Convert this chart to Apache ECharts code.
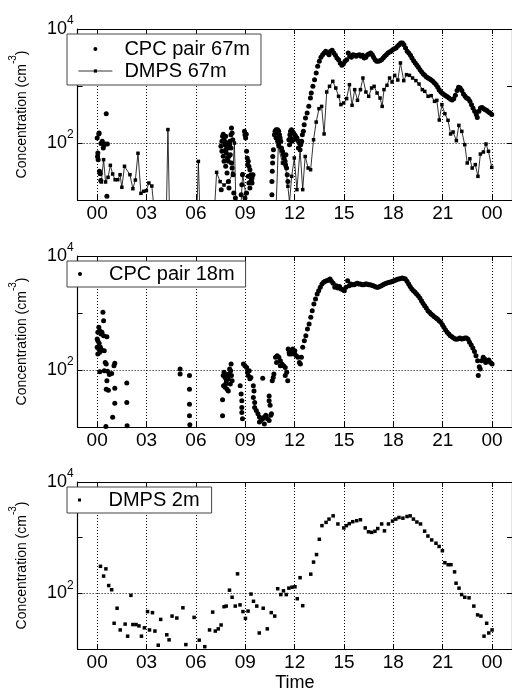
<!DOCTYPE html>
<html><head><meta charset="utf-8">
<script src="https://cdn.jsdelivr.net/npm/echarts@6/dist/echarts.min.js"></script>
<style>html,body{margin:0;padding:0;background:#fff}#c{width:512px;height:693px}</style>
</head><body><div id="c"></div>
<script>
// x ticks (hours of day) and their labels
const tickHours = [0, 3, 6, 9, 12, 15, 18, 21, 24];
const tickLabels = ['00', '03', '06', '09', '12', '15', '18', '21', '00'];
// labelled decades of the log y axis (exponents)
const yLabelExps = [2, 4];

// CPC pair 67m  [hour, concentration cm^-3]
const cpc67 = [
[0.00,122],[0.02,58],[0.04,67],[0.06,51],[0.10,144],[0.12,150],[0.14,32],[0.18,29],[0.22,22],[0.23,98],[0.31,107],[0.37,82],[0.41,91],[0.49,96],[0.55,327],[0.59,11.6],[0.62,96],
[7.52,87.5],[7.54,15.2],[7.58,107],[7.58,71.5],[7.62,131],[7.66,143],[7.66,58.4],[7.71,122],[7.71,47.7],[7.75,107],[7.77,93.5],[7.81,76],[7.81,131],[7.81,39],[7.85,67],[7.87,87.5],[7.89,29.8],[7.91,54.6],[7.93,100],[7.97,47.7],[7.97,82],[7.97,21.2],[8.01,58.4],[8.01,16.3],[8.05,93.5],[8.07,107],[8.09,62.4],[8.13,140],[8.13,82],[8.16,183],[8.16,44.6],[8.20,150],[8.20,36.4],[8.24,114],[8.26,27.8],[8.30,13.3],[8.40,10.8],
[8.75,12.4],[8.79,18.6],[8.83,27.8],[8.95,160],[8.98,140],[8.98,10.8],[9.02,122],[9.06,143],[9.08,71.5],[9.08,13.3],[9.12,54.6],[9.14,41.7],[9.18,47.7],[9.18,26],[9.22,39],[9.22,19.9],[9.28,34],[9.28,26],[9.28,16.3],[9.34,27.8],[9.34,21.2],[9.38,22.8],[9.41,19.9],[9.41,24.3],[9.47,27.8],
[10.62,12.4],[10.62,21.2],[10.64,31.8],[10.66,44.6],[10.67,58],[10.71,76],[10.77,140],[10.81,160],[10.87,170],[10.87,122],[10.93,150],[10.97,170],[10.97,107],[11.03,160],[11.03,93.5],[11.08,140],[11.12,122],[11.16,107],[11.20,82],[11.26,71.5],[11.32,62],[11.36,54],[11.36,44.6],[11.42,47.7],[11.45,41.7],[11.47,62],[11.51,36.4],[11.55,27.8],[11.59,21.2],[11.65,114],[11.69,93.5],[11.71,140],[11.75,160],[11.75,122],[11.81,170],[11.84,107],[11.86,160],[11.94,150],[11.94,114],[12.00,140],[12.06,131],[12.14,122],[12.21,110],[12.23,82],[12.29,100],[12.33,76],[12.37,93.5],[12.43,107],
[12.47,140],[12.53,160],[12.58,210],[12.66,275],[12.76,335],[12.86,440],[12.96,615],[13.01,755],[13.11,985],[13.21,1290],[13.31,1690],[13.40,2215],[13.50,2710],[13.60,3185],[13.70,3550],[13.79,3790],[13.89,4055],[13.99,3790],[14.09,3550],[14.18,4055],[14.28,4225],[14.38,3790],[14.48,3450],[14.57,3100],[14.67,2900],[14.77,2535],[14.87,2305],[14.96,2435],[15.06,2710],[15.16,2900],[15.26,3790],[15.35,3310],[15.45,3185],[15.55,3550],[15.65,3450],[15.74,3310],[15.84,3450],[15.94,3550],[16.04,3310],[16.13,3450],[16.23,3100],[16.33,3185],[16.43,3550],[16.52,3640],[16.62,3790],[16.72,3550],[16.80,3185],[16.89,2900],[16.98,2710],[17.08,2710],[17.18,2780],[17.28,2900],[17.38,3100],[17.47,3310],[17.57,3550],[17.67,3790],[17.77,3945],[17.86,4055],[17.96,4335],[18.06,4520],[18.16,4645],[18.25,4965],[18.35,5310],[18.45,5675],[18.55,5675],[18.64,5310],[18.74,4645],[18.84,4055],[18.94,3790],[19.04,3450],[19.13,3100],[19.23,2780],[19.33,2535],[19.43,2305],[19.52,2125],[19.62,1935],[19.72,1760],[19.82,1625],[19.91,1540],[20.01,1440],[20.11,1380],[20.21,1330],[20.30,1275],[20.40,1210],[20.50,1130],[20.60,1055],[20.70,950],[20.79,850],[20.89,785],[20.99,735],[21.09,705],[21.18,675],[21.28,650],[21.38,615],[21.48,585],[21.57,570],[21.67,600],[21.77,685],[21.87,830],[21.96,950],[22.06,920],[22.16,830],[22.26,725],[22.36,660],[22.45,615],[22.55,600],[22.65,540],[22.75,470],[22.84,410],[22.94,360],[23.04,315],[23.10,280],[23.20,360],[23.29,410],[23.39,420],[23.49,400],[23.59,385],[23.68,370],[23.78,350],[23.88,335],[23.98,315]
];

// DMPS 67m  [hour, concentration]  (values < 10 fall below the axis)
const dmps67 = [
[0.25,20.7],[0.39,51],[0.51,20.7],[0.66,25],[0.80,40.6],[0.94,28.6],[1.09,22.7],[1.25,22.7],[1.39,27.8],[1.50,16.7],[1.66,39],[1.99,27.8],[2.17,15.8],[2.32,22.4],[2.48,66],[2.66,13.1],[2.83,14.2],[2.99,14.6],[3.14,19.9],[3.32,17.6],[3.48,6],[4.20,5],[4.30,172],[4.40,5],[6.05,5],[6.15,47.6],[6.25,5],[7.10,5],[7.26,30.6],[7.47,21],[7.71,18.3],[8.00,21],[8.24,29.4],[8.34,100],[8.45,5],[8.70,5],[8.84,28.6],[9.02,13],[9.20,5],[10.85,5],[11.01,87],[11.26,44.6],[11.45,39],[11.59,17.4],[11.69,9],[11.82,26],[11.98,54.6],[12.14,15.2],[12.33,76],[12.49,15.2],[12.64,58],[12.82,36.4],[12.97,34],[13.15,114],[13.31,233],[13.48,400],[13.64,439],[13.79,144],[13.95,785],[14.12,987],[14.32,1208],[14.50,922],[14.67,659],[14.81,471],[14.98,504],[15.16,600],[15.33,1055],[15.49,458],[15.65,863],[15.82,561],[16.00,863],[16.15,1380],[16.33,785],[16.50,659],[16.68,922],[16.83,987],[17.01,753],[17.19,615],[17.32,439],[17.43,863],[17.61,1028],[17.77,1380],[17.92,1175],[18.08,1538],[18.27,1274],[18.43,2535],[18.63,1241],[18.80,1581],[18.98,1538],[19.17,1380],[19.37,1241],[19.56,1084],[19.76,863],[19.91,806],[20.11,659],[20.30,677],[20.50,538],[20.64,560],[20.79,253],[20.95,471],[21.13,327],[21.32,250],[21.48,144],[21.63,156],[21.83,110],[21.98,204],[22.16,160],[22.34,93.5],[22.49,44.6],[22.65,53],[22.79,36.4],[22.98,41.7],[23.14,26],[23.29,64],[23.47,69.5],[23.63,96],[23.78,71.5],[23.98,37.4]
];

// CPC pair 18m  [hour, concentration]
const cpc18 = [
[0.00,350],[0.00,250],[0.04,458],[0.04,327],[0.04,191],[0.10,561],[0.10,234],[0.12,295],[0.16,490],[0.16,204],[0.16,93],[0.20,250],[0.23,428],[0.29,458],[0.29,225],[0.35,1028],[0.39,733],[0.39,400],[0.43,218],[0.43,97],[0.49,136],[0.53,10.2],[0.55,127],[0.55,46],[0.59,385],[0.59,65],[0.63,95],[0.68,44],[0.74,83],[0.88,87],[0.94,14.8],[1.02,119],[1.07,131],[1.07,48],[1.07,26],[1.80,59],[1.80,27],[1.82,10.5],
[5.04,104],[5.04,85],[5.61,80],[5.61,46],[5.61,25],[5.61,15.8],[5.63,11],
[7.62,30],[7.62,15.8],[7.66,80],[7.68,53],[7.71,91],[7.77,74],[7.77,50],[7.81,57],[7.81,83],[7.85,65],[7.89,46],[7.91,80],[7.97,70],[7.97,43],[8.01,85],[8.05,104],[8.09,57],[8.11,97],[8.14,127],[8.16,80],[8.20,65],
[8.69,53],[8.75,38],[8.79,29],[8.79,22],[8.79,18],[8.83,14],[8.89,127],[8.98,119],[9.08,111],[9.14,91],[9.18,80],[9.24,97],[9.28,70],[9.34,74],[9.49,53],[9.49,33],[9.53,43],[9.57,27],[9.57,22],[9.67,19.4],[9.77,17],[9.86,15],[9.86,12.3],[9.96,13],[10.06,14],[10.06,72],[10.16,15],[10.16,11.3],[10.25,16],[10.35,14],[10.45,13],[10.45,35],[10.45,29],[10.51,24],[10.55,16],[10.59,17],
[10.64,65],[10.70,74],[10.74,85],[10.84,167],[10.90,136],[10.94,178],[11.04,167],[11.13,146],[11.13,119],[11.23,127],[11.33,119],[11.43,111],[11.43,80],[11.52,91],[11.58,65],[11.68,191],[11.76,218],[11.88,234],[12.01,218],
[11.61,234],[11.67,204],[11.75,218],[11.80,191],[11.90,204],[12.00,191],[12.10,178],[12.20,167],[12.29,136],[12.35,127],[12.41,167],[12.49,250],[12.59,327],[12.68,400],[12.78,524],[12.88,641],[12.98,839],[13.07,1098],[13.17,1438],[13.27,1762],[13.37,2155],[13.46,2465],[13.56,2820],[13.66,3225],[13.76,3450],[13.85,3597],[13.95,3690],[14.05,3790],[14.15,3945],[14.24,3597],[14.34,3310],[14.44,2820],[14.54,3020],[14.63,2750],[14.73,2920],[14.83,2635],[14.93,2550],[15.02,2465],[15.12,2820],[15.22,3690],[15.32,3020],[15.41,3225],[15.51,3130],[15.61,3130],[15.70,3225],[15.80,3310],[15.90,3225],[16.00,3225],[16.10,3130],[16.20,3130],[16.29,3225],[16.39,3225],[16.49,3130],[16.59,3130],[16.68,3060],[16.78,3020],[16.88,2920],[16.98,2820],[17.07,2820],[17.17,2920],[17.27,3020],[17.37,3130],[17.46,3225],[17.56,3310],[17.66,3400],[17.76,3450],[17.85,3500],[17.95,3597],[18.05,3690],[18.15,3790],[18.24,3890],[18.34,3945],[18.44,4050],[18.54,4110],[18.63,4050],[18.73,3945],[18.83,3597],[18.93,3225],[19.02,2920],[19.12,2635],[19.22,2465],[19.32,2305],[19.41,2155],[19.51,2015],[19.61,1832],[19.71,1645],[19.80,1479],[19.90,1346],[20.00,1225],[20.10,1098],[20.20,1028],[20.29,960],[20.39,910],[20.49,863],[20.59,817],[20.68,785],[20.78,733],[20.88,685],[20.98,623],[21.07,561],[21.17,503],[21.27,458],[21.37,428],[21.46,400],[21.56,385],[21.66,364],[21.76,350],[21.85,345],[21.95,355],[22.05,364],[22.15,350],[22.24,355],[22.34,364],[22.44,364],[22.54,345],[22.63,306],[22.73,275],[22.83,243],[22.93,212],[23.02,178],[23.12,146],[23.16,80],[23.22,114],[23.28,104],[23.36,146],[23.46,167],[23.55,156],[23.61,136],[23.71,146],[23.80,150],[23.90,136],[24.00,127]
];

// DMPS 2m  [hour, concentration]
const dmps2 = [
[0.20,306],[0.39,204],[0.53,275],[0.70,138],[0.88,116],[1.03,29],[1.21,54],[1.40,22],[1.70,28],[1.85,17],[2.05,92],[2.17,27.5],[2.36,27.5],[2.54,26],[2.69,17],[2.87,24],[3.06,47],[3.18,22],[3.36,45],[3.51,21],[3.71,11.7],[3.86,34],[4.23,18],[4.37,14.6],[4.55,39],[4.84,36],[5.21,55],[5.39,12],[5.89,37],[6.20,14.4],[6.54,11],[6.83,22],[7.02,46],[7.18,21],[7.36,23],[7.53,27],[7.71,57.5],[7.84,59],[8.04,114],[8.20,85],[8.39,59],[8.53,224],[8.68,62],[8.86,47],[9.01,35.5],[9.17,48],[9.35,97],[9.50,72],[9.70,59],[9.85,19.4],[10.09,54],[10.34,23],[10.58,45],[10.79,39],[10.97,121],[11.16,95],[11.32,111],[11.49,95],[11.65,124],[11.84,129],[12.02,131],[12.16,80],[12.33,191],[12.49,60],[12.98,221],[13.15,364],[13.33,497],[13.50,935],[13.66,1645],[13.91,1883],[14.09,2155],[14.34,2465],[14.63,1762],[14.99,1497],[15.14,1645],[15.32,1784],[15.53,1935],[15.77,2015],[16.00,2098],[16.29,1497],[16.49,1274],[16.68,1245],[16.88,1300],[17.05,1459],[17.29,1762],[17.46,1327],[17.70,1762],[17.95,1987],[18.15,2155],[18.34,2305],[18.58,2240],[18.83,2400],[19.02,2465],[19.22,2155],[19.43,1910],[19.65,1762],[19.90,1309],[20.10,1069],[20.33,910],[20.59,794],[20.78,695],[20.98,583],[21.13,355],[21.33,327],[21.50,327],[21.72,243],[21.81,152],[21.99,124],[22.15,95],[22.34,85],[22.60,83],[22.89,59],[23.12,41],[23.32,39],[23.51,17],[23.67,29],[23.80,19.4],[24.00,22]
];

const FONT = "'Liberation Sans', Arial, Helvetica, sans-serif";
const XMIN = -1.19, XMAX = 25.21;
const gridDefs = [
  {left: 63, top: 29, width: 451, height: 171},
  {left: 63, top: 256, width: 451, height: 171},
  {left: 63, top: 482, width: 451, height: 170}
];
const dotted = {type: [1, 2], color: '#000', width: 1};
const frame = {color: '#000', width: 1.2};

const xAxes = [], yAxes = [];
for (let i = 0; i < 3; i++) {
  xAxes.push({
    gridIndex: i, type: 'value', min: XMIN, max: XMAX, position: 'bottom',
    axisLine: {show: true, onZero: false, lineStyle: frame},
    axisTick: {show: true, inside: true, length: 5, customValues: tickHours, lineStyle: {color: '#000'}},
    axisLabel: {show: true, customValues: tickHours, margin: 4, color: '#000', fontSize: 19, fontFamily: FONT,
      formatter: v => tickLabels[tickHours.indexOf(v)]},
    splitLine: {show: true, lineStyle: dotted},
    name: i === 2 ? 'Time' : '', nameLocation: 'middle', nameGap: 25,
    nameTextStyle: {color: '#000', fontSize: 18, fontFamily: FONT}
  });
}
for (let i = 0; i < 3; i++) {
  xAxes.push({
    gridIndex: i, type: 'value', min: XMIN, max: XMAX, position: 'top',
    axisLine: {show: true, onZero: false, lineStyle: frame},
    axisTick: {show: true, inside: true, length: 5, customValues: tickHours, lineStyle: {color: '#000'}},
    axisLabel: {show: false}, splitLine: {show: false}
  });
}
for (let i = 0; i < 3; i++) {
  yAxes.push({
    gridIndex: i, type: 'log', logBase: 10, min: 10, max: 10000, position: 'left',
    axisLine: {show: true, onZero: false, lineStyle: frame},
    axisTick: {show: true, inside: true, length: 5, lineStyle: {color: '#000'}},
    axisLabel: {show: true, margin: 4, color: '#000', fontFamily: FONT,
      formatter: v => { const e = Math.round(Math.log10(v)); return yLabelExps.indexOf(e) >= 0 ? '{b|10}{s|' + e + '}' : ''; },
      rich: {b: {fontSize: 18, lineHeight: 28, verticalAlign: 'middle', fontFamily: FONT, color: '#000'},
             s: {fontSize: 12, lineHeight: 12, verticalAlign: 'top', fontFamily: FONT, color: '#000'}}},
    splitLine: {show: false},
    name: 'Concentration (cm{s|-3})', nameLocation: 'middle', nameGap: 27, nameRotate: 90,
    nameTextStyle: {color: '#000', fontSize: 14, fontFamily: FONT, lineHeight: 28,
      rich: {s: {fontSize: 10, lineHeight: 10, verticalAlign: 'top', fontFamily: FONT, color: '#000'}}}
  });
}
for (let i = 0; i < 3; i++) {
  yAxes.push({
    gridIndex: i, type: 'log', logBase: 10, min: 10, max: 10000, position: 'right',
    axisLine: {show: true, onZero: false, lineStyle: frame},
    axisTick: {show: true, inside: true, length: 5, lineStyle: {color: '#000'}},
    axisLabel: {show: false}, splitLine: {show: false}
  });
}

const hLine = {silent: true, symbol: ['none', 'none'], label: {show: false}, lineStyle: dotted,
  emphasis: {disabled: true}, data: [{yAxis: 100}]};

const legendBase = {
  orient: 'vertical', itemWidth: 34, itemHeight: 4, itemGap: 2, selectedMode: false,
  borderColor: '#444', borderWidth: 1, backgroundColor: '#fff', borderRadius: 0,
  textStyle: {color: '#000', fontSize: 20, fontFamily: FONT, lineHeight: 20, padding: [0, 0, 0, 7]}
};
const squareIcon = 'path://M0,0L1,0L1,1L0,1Z';

const option = {
  animation: false,
  backgroundColor: '#fff',
  grid: gridDefs,
  xAxis: xAxes,
  yAxis: yAxes,
  legend: [
    Object.assign({}, legendBase, {left: 67, top: 34, padding: [5, 11, 4, 11],
      data: [{name: 'CPC pair 67m', icon: 'circle'},
             {name: 'DMPS 67m', lineStyle: {width: 0.8, color: '#000'}}]}),
    Object.assign({}, legendBase, {left: 67, top: 261, padding: [3, 11, 3, 11],
      data: [{name: 'CPC pair 18m', icon: 'circle'}]}),
    Object.assign({}, legendBase, {left: 67, top: 487, padding: [3, 12, 3, 11], itemHeight: 3,
      data: [{name: 'DMPS 2m', icon: squareIcon}]})
  ],
  series: [
    {name: 'CPC pair 67m', type: 'scatter', xAxisIndex: 0, yAxisIndex: 0, symbol: 'circle', symbolSize: 5,
     itemStyle: {color: '#000', opacity: 1}, data: cpc67, markLine: hLine, silent: true},
    {name: 'DMPS 67m', type: 'line', xAxisIndex: 0, yAxisIndex: 0, symbol: 'rect', symbolSize: 3.5, showAllSymbol: true,
     clip: true, lineStyle: {color: '#000', width: 0.8}, itemStyle: {color: '#000', opacity: 1}, data: dmps67, silent: true},
    {name: 'CPC pair 18m', type: 'scatter', xAxisIndex: 1, yAxisIndex: 1, symbol: 'circle', symbolSize: 5,
     itemStyle: {color: '#000', opacity: 1}, data: cpc18, markLine: hLine, silent: true},
    {name: 'DMPS 2m', type: 'scatter', xAxisIndex: 2, yAxisIndex: 2, symbol: 'rect', symbolSize: 3.5,
     itemStyle: {color: '#000', opacity: 1}, data: dmps2, markLine: hLine, silent: true}
  ]
};
const chart = echarts.init(document.getElementById('c'), null, {renderer: 'canvas'});
chart.setOption(option);
</script>
</body></html>
